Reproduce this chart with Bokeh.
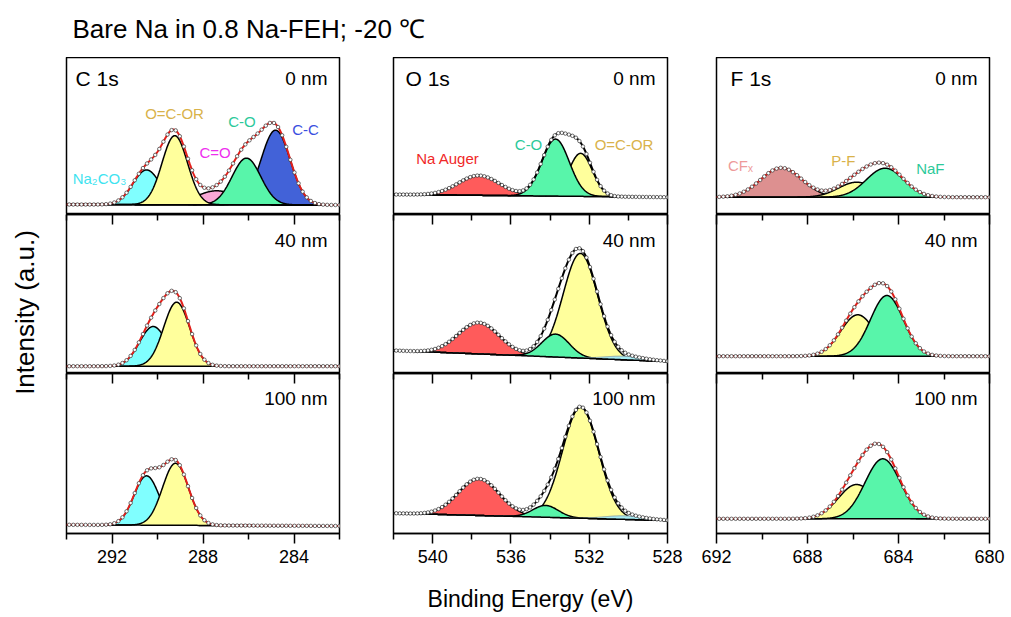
import numpy as np
from bokeh.plotting import figure
from bokeh.models import Range1d, LinearAxis, FixedTicker, Label
from bokeh.layouts import row, column
from bokeh.embed import file_html
from bokeh.resources import INLINE

FONT = "Liberation Sans"

TITLE = "Bare Na in 0.8 Na-FEH; -20 \u2103"
Y_LABEL = "Intensity (a.u.)"
X_LABEL = "Binding Energy (eV)"
CORE_LEVELS = ["C 1s", "O 1s", "F 1s"]
DEPTHS = ["0 nm", "40 nm", "100 nm"]

# binding-energy axes (reversed)
C_RANGE = [294, 282]
O_RANGE = [542, 528]
F_RANGE = [692, 680]
C_MAJOR = [292, 288, 284]
C_MINOR = [294, 290, 286, 282]
O_MAJOR = [540, 536, 532, 528]
O_MINOR = [542, 538, 534, 530]
F_MAJOR = [692, 688, 684, 680]
F_MINOR = [690, 686, 682]

# ---- fitted components (center eV, height a.u., sigma eV), background (high-BE end, low-BE end)
C1S_0NM_NAMES = ["C=O", "C-C", "C-O", "Na2CO3", "O=C-OR"]
C1S_0NM_CENTER = [287.4, 284.81, 286.09, 290.48, 289.24]
C1S_0NM_HEIGHT = [14, 74.7, 46.7, 34.7, 69]
C1S_0NM_SIGMA = [0.9, 0.64, 0.63, 0.6, 0.56]
C1S_0NM_BG = [10, 9.5]

C1S_40NM_NAMES = ["Na2CO3", "O=C-OR"]
C1S_40NM_CENTER = [290.19, 289.16]
C1S_40NM_HEIGHT = [39.7, 64]
C1S_40NM_SIGMA = [0.6, 0.57]
C1S_40NM_BG = [7.3, 7.3]

C1S_100NM_NAMES = ["Na2CO3", "O=C-OR"]
C1S_100NM_CENTER = [290.48, 289.21]
C1S_100NM_HEIGHT = [49.3, 62]
C1S_100NM_SIGMA = [0.55, 0.57]
C1S_100NM_BG = [8.7, 7.5]

O1S_0NM_NAMES = ["Na Auger", "O=C-OR", "C-O"]
O1S_0NM_CENTER = [537.64, 532.44, 533.72]
O1S_0NM_HEIGHT = [19.8, 43, 57]
O1S_0NM_SIGMA = [1.05, 0.6, 0.7]
O1S_0NM_BG = [20, 17.3]

O1S_40NM_NAMES = ["Na Auger", "O=C-OR", "C-O", "Na2CO3"]
O1S_40NM_CENTER = [537.64, 532.45, 533.72, 530.2]
O1S_40NM_HEIGHT = [31.3, 104.6, 22.9, 3.5]
O1S_40NM_SIGMA = [1.05, 0.88, 0.7, 1.0]
O1S_40NM_BG = [23, 12]

O1S_100NM_NAMES = ["Na Auger", "O=C-OR", "C-O", "Na2CO3"]
O1S_100NM_CENTER = [537.64, 532.44, 534.23, 530.2]
O1S_100NM_HEIGHT = [36.7, 111, 11.8, 3.5]
O1S_100NM_SIGMA = [1.05, 0.92, 0.65, 1.0]
O1S_100NM_BG = [20.3, 13]

F1S_0NM_NAMES = ["CFx", "P-F", "NaF"]
F1S_0NM_CENTER = [689.15, 685.84, 684.59]
F1S_0NM_HEIGHT = [29.4, 15, 29]
F1S_0NM_SIGMA = [0.9, 0.8, 0.82]
F1S_0NM_BG = [17.3, 17.3]

F1S_40NM_NAMES = ["P-F", "NaF"]
F1S_40NM_CENTER = [685.79, 684.51]
F1S_40NM_HEIGHT = [41.4, 60.7]
F1S_40NM_SIGMA = [0.75, 0.72]
F1S_40NM_BG = [17.3, 17.3]

F1S_100NM_NAMES = ["P-F", "NaF"]
F1S_100NM_CENTER = [685.84, 684.69]
F1S_100NM_HEIGHT = [34.3, 60]
F1S_100NM_SIGMA = [0.8, 0.78]
F1S_100NM_BG = [14.7, 14.7]

# ---- peak labels (top panels)
C1S_LABELS = ["Na\u2082CO\u2083", "O=C-OR", "C=O", "C-O", "C-C"]
C1S_LABEL_X = [292.55, 289.25, 287.47, 286.29, 283.49]
C1S_LABEL_Y = [36, 101, 62, 93, 85]
O1S_LABELS = ["Na Auger", "C-O", "O=C-OR"]
O1S_LABEL_X = [539.22, 535.1, 530.22]
O1S_LABEL_Y = [56, 70, 70]
F1S_LABELS = ["CF\u2093", "P-F", "NaF"]
F1S_LABEL_X = [690.95, 686.42, 682.6]
F1S_LABEL_Y = [49, 54, 46]

FILL = {"Na2CO3": "#80FFFF", "O=C-OR": "#FFFF9C", "C=O": "#F8A8D6", "C-O": "#58F5AA",
        "C-C": "#4262D8", "Na Auger": "#FF5B5B", "CFx": "#DD9090", "P-F": "#FFFF9C",
        "NaF": "#58F5AA"}
O_SMALL_FILL = "#A6ECF4"
LABEL_COLOR = {"Na\u2082CO\u2083": "#3FE3F0", "O=C-OR": "#D9B24A", "C=O": "#EE2EEE",
               "C-O": "#2CC99A", "C-C": "#3A4FE0", "Na Auger": "#F02828",
               "CF\u2093": "#EE9A9A", "P-F": "#D9B24A", "NaF": "#2CC99A"}

COLS = [
    dict(rng=C_RANGE, major=C_MAJOR, minor=C_MINOR, bl=26, fw=273, br=27, env="#E3201B", left_pad=9,
         panels=[(C1S_0NM_NAMES, C1S_0NM_CENTER, C1S_0NM_HEIGHT, C1S_0NM_SIGMA, C1S_0NM_BG),
                 (C1S_40NM_NAMES, C1S_40NM_CENTER, C1S_40NM_HEIGHT, C1S_40NM_SIGMA, C1S_40NM_BG),
                 (C1S_100NM_NAMES, C1S_100NM_CENTER, C1S_100NM_HEIGHT, C1S_100NM_SIGMA, C1S_100NM_BG)],
         labels=(C1S_LABELS, C1S_LABEL_X, C1S_LABEL_Y)),
    dict(rng=O_RANGE, major=O_MAJOR, minor=O_MINOR, bl=27, fw=274, br=25, env="black", left_pad=12,
         panels=[(O1S_0NM_NAMES, O1S_0NM_CENTER, O1S_0NM_HEIGHT, O1S_0NM_SIGMA, O1S_0NM_BG),
                 (O1S_40NM_NAMES, O1S_40NM_CENTER, O1S_40NM_HEIGHT, O1S_40NM_SIGMA, O1S_40NM_BG),
                 (O1S_100NM_NAMES, O1S_100NM_CENTER, O1S_100NM_HEIGHT, O1S_100NM_SIGMA, O1S_100NM_BG)],
         labels=(O1S_LABELS, O1S_LABEL_X, O1S_LABEL_Y)),
    dict(rng=F_RANGE, major=F_MAJOR, minor=F_MINOR, bl=24, fw=273, br=21, env="#E3201B", left_pad=14,
         panels=[(F1S_0NM_NAMES, F1S_0NM_CENTER, F1S_0NM_HEIGHT, F1S_0NM_SIGMA, F1S_0NM_BG),
                 (F1S_40NM_NAMES, F1S_40NM_CENTER, F1S_40NM_HEIGHT, F1S_40NM_SIGMA, F1S_40NM_BG),
                 (F1S_100NM_NAMES, F1S_100NM_CENTER, F1S_100NM_HEIGHT, F1S_100NM_SIGMA, F1S_100NM_BG)],
         labels=(F1S_LABELS, F1S_LABEL_X, F1S_LABEL_Y)),
]
TITLE_H = 57
TOTAL_W = 1010
YLAB_W = 40
ROW_FH = [157, 159, 160]
ROW_BB = [0, 0, 83]
CORNER_DOWN = [21, 26, 25]


def gauss(x, c, h, s):
    return h * np.exp(-0.5 * ((x - c) / s) ** 2)


def bare_figure(w, h):
    f = figure(width=w, height=h, x_range=Range1d(0, w), y_range=Range1d(0, h),
               x_axis_location=None, y_axis_location=None, title=None,
               output_backend="svg", toolbar_location=None, min_border=0)
    f.grid.visible = False
    f.outline_line_color = None
    return f


def make_panel(ci, r):
    col = COLS[ci]
    x0, x1 = col["rng"]
    fh = ROW_FH[r]
    p = figure(width=col["bl"] + col["fw"] + col["br"], height=fh + ROW_BB[r],
               x_range=Range1d(x0, x1), y_range=Range1d(0, fh),
               x_axis_location=None, y_axis_location=None, title=None,
               output_backend="svg", toolbar_location=None,
               min_border_left=col["bl"], min_border_right=col["br"],
               min_border_top=0, min_border_bottom=ROW_BB[r])
    p.grid.visible = False
    p.outline_line_color = "black"
    p.outline_line_width = 1.5
    p.background_fill_color = "white"
    p.border_fill_color = "white"

    ticker = FixedTicker(ticks=col["major"], minor_ticks=col["minor"])
    if r > 0:
        top = LinearAxis(ticker=ticker, major_tick_in=10, major_tick_out=0,
                         minor_tick_in=6, minor_tick_out=0,
                         major_label_text_font_size="0px", major_label_text_color=None,
                         major_label_standoff=0,
                         axis_line_color="black", axis_line_width=1.5,
                         major_tick_line_width=1.5, minor_tick_line_width=1.5)
        p.add_layout(top, "above")
    if r == 2:
        bot = LinearAxis(ticker=ticker, major_tick_in=0, major_tick_out=10,
                         minor_tick_in=0, minor_tick_out=6,
                         major_label_text_font=FONT, major_label_text_font_size="18px",
                         major_label_text_color="black", major_label_standoff=6,
                         axis_line_color="black", axis_line_width=1.5,
                         major_tick_line_width=1.5, minor_tick_line_width=1.5)
        if ci == 1:
            bot.axis_label = X_LABEL
            bot.axis_label_text_font = FONT
            bot.axis_label_text_font_size = "23px"
            bot.axis_label_text_font_style = "normal"
            bot.axis_label_text_color = "black"
            bot.axis_label_standoff = 20
        p.add_layout(bot, "below")

    names, centers, heights, sigmas, bg = col["panels"][r]
    xs = np.linspace(min(x0, x1), max(x0, x1), 600)
    base = bg[0] + (bg[1] - bg[0]) * (x0 - xs) / (x0 - x1)
    total = np.zeros_like(xs)
    for name, c, h, s in zip(names, centers, heights, sigmas):
        g = gauss(xs, c, h, s)
        total += g
        small = (ci == 1 and name == "Na2CO3")
        p.varea(x=xs, y1=base, y2=base + g, fill_color=O_SMALL_FILL if small else FILL[name])
        p.line(xs, base + g, line_color="#8AA0A8" if small else "black",
               line_width=1.0 if small else 1.5)
    p.line(xs, base, line_color="black", line_width=1.5)
    p.line(xs, base + total, line_color=col["env"], line_width=2)

    mx = np.arange(min(x0, x1), max(x0, x1) + 1e-6, 0.18)
    mbase = bg[0] + (bg[1] - bg[0]) * (x0 - mx) / (x0 - x1)
    my = mbase + sum(gauss(mx, c, h, s) for c, h, s in zip(centers, heights, sigmas))
    p.scatter(mx, my, marker="circle", size=3.5, fill_color="white", line_color="#333333", line_width=0.7)

    ppe = col["fw"] / abs(x0 - x1)
    direction = 1 if x1 < x0 else -1
    ytxt = fh - CORNER_DOWN[r]
    if r == 0:
        p.add_layout(Label(x=x0 - direction * col["left_pad"] / ppe, y=ytxt, text=CORE_LEVELS[ci],
                           text_font=FONT, text_font_size="21px", text_color="black",
                           text_align="left", text_baseline="middle"))
        texts, lx, ly = col["labels"]
        for t, xx, yy in zip(texts, lx, ly):
            p.add_layout(Label(x=xx, y=yy, text=t, text_font=FONT, text_font_size="15px",
                               text_color=LABEL_COLOR[t], text_align="center", text_baseline="middle"))
    p.add_layout(Label(x=x1 + direction * 12 / ppe, y=ytxt, text=DEPTHS[r],
                       text_font=FONT, text_font_size="19px", text_color="black",
                       text_align="right", text_baseline="middle"))
    return p


# title strip spanning the page width
head = bare_figure(TOTAL_W, TITLE_H)
head.add_layout(Label(x=72, y=TITLE_H - 28, text=TITLE, text_font=FONT, text_font_size="26px",
                      text_color="black", text_align="left", text_baseline="middle"))

# strip on the left carrying the shared y-axis title
body_h = sum(ROW_FH) + ROW_BB[2]
yfig = bare_figure(YLAB_W, body_h)
yfig.add_layout(Label(x=24, y=body_h - (312 - TITLE_H), text=Y_LABEL, angle=90, angle_units="deg",
                      text_font=FONT, text_font_size="26px", text_color="black",
                      text_align="center", text_baseline="middle"))

cols = [yfig]
for ci in range(3):
    cols.append(column(*[make_panel(ci, r) for r in range(3)], spacing=0))
layout = column(head, row(*cols, spacing=0), spacing=0)

open("out.html", "w").write(file_html(layout, INLINE))
